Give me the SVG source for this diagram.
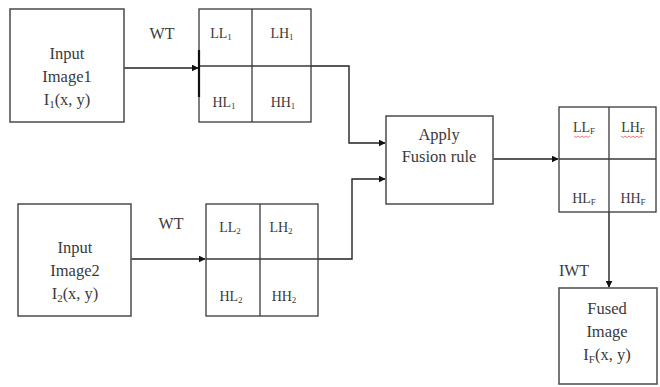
<svg xmlns="http://www.w3.org/2000/svg" width="660" height="387" viewBox="0 0 660 387">
  <style>
    .box { fill: #ffffff; stroke: #555555; stroke-width: 1.6; }
    .grid { fill: none; stroke: #3a3a3a; stroke-width: 1.3; }
    .conn { fill: none; stroke: #222222; stroke-width: 1.4; }
    .lbl { font-family: "Liberation Serif", "Times New Roman", serif; fill: #3a3a3a; text-anchor: middle; }
    .big { font-size: 16.5px; }
    .sub { font-size: 14px; }
    .tag { font-size: 16px; }
    .spell { fill: none; stroke: #e05a5a; stroke-width: 0.8; }
  </style>
  <defs>
    <marker id="arrow" viewBox="0 0 10 10" refX="9" refY="5" markerWidth="7" markerHeight="7" orient="auto" markerUnits="userSpaceOnUse">
      <path d="M0,0 L10,5 L0,10 z" fill="#111111"/>
    </marker>
  </defs>

  <rect width="660" height="387" fill="#ffffff"/>

  <!-- connectors -->
  <g id="connectors">
    <path class="conn" d="M124,68 H198" marker-end="url(#arrow)"/>
    <path class="conn" d="M131,259 H205" marker-end="url(#arrow)"/>
    <path class="conn" d="M311,66 H349 V143 H385" marker-end="url(#arrow)"/>
    <path class="conn" d="M318,259 H352 V179 H385" marker-end="url(#arrow)"/>
    <path class="conn" d="M493,159 H558" marker-end="url(#arrow)"/>
    <path class="conn" d="M609,212 V287" marker-end="url(#arrow)"/>
    <text class="lbl tag" x="162" y="39">WT</text>
    <text class="lbl tag" x="171" y="229">WT</text>
    <text class="lbl tag" x="574" y="276">IWT</text>
  </g>

  <!-- first source image -->
  <g id="input1">
    <rect class="box" x="10" y="9" width="114" height="113"/>
    <text class="lbl big" x="67" y="59">Input</text>
    <text class="lbl big" x="67" y="82">Image1</text>
    <text class="lbl big" x="67" y="105">I<tspan font-size="11" dy="3">1</tspan><tspan dy="-3">(x, y)</tspan></text>
  </g>

  <!-- second source image -->
  <g id="input2">
    <rect class="box" x="18" y="204" width="113" height="112"/>
    <text class="lbl big" x="75" y="253">Input</text>
    <text class="lbl big" x="75" y="276">Image2</text>
    <text class="lbl big" x="75" y="299">I<tspan font-size="11" dy="3">2</tspan><tspan dy="-3">(x, y)</tspan></text>
  </g>

  <!-- wavelet sub-bands of image 1 -->
  <g id="bands1">
    <rect class="grid" x="199" y="9" width="112" height="113"/>
    <path class="grid" d="M252,9 V122 M199,66 H311"/>
    <path d="M199,50 V97" stroke="#111111" stroke-width="2.2"/>
    <text class="lbl sub" x="221" y="38">LL<tspan font-size="9" dy="2">1</tspan></text>
    <text class="lbl sub" x="282" y="38">LH<tspan font-size="9" dy="2">1</tspan></text>
    <text class="lbl sub" x="224" y="107">HL<tspan font-size="9" dy="2">1</tspan></text>
    <text class="lbl sub" x="283" y="107">HH<tspan font-size="9" dy="2">1</tspan></text>
  </g>

  <!-- wavelet sub-bands of image 2 -->
  <g id="bands2">
    <rect class="grid" x="206" y="204" width="112" height="112"/>
    <path class="grid" d="M260,204 V316 M206,259 H318"/>
    <text class="lbl sub" x="230" y="232">LL<tspan font-size="9" dy="2">2</tspan></text>
    <text class="lbl sub" x="281" y="232">LH<tspan font-size="9" dy="2">2</tspan></text>
    <text class="lbl sub" x="231" y="301">HL<tspan font-size="9" dy="2">2</tspan></text>
    <text class="lbl sub" x="284" y="301">HH<tspan font-size="9" dy="2">2</tspan></text>
  </g>

  <!-- fusion step -->
  <g id="fusion">
    <rect class="box" x="386" y="116" width="107" height="88"/>
    <text class="lbl big" x="439" y="140">Apply</text>
    <text class="lbl big" x="439" y="162">Fusion rule</text>
  </g>

  <!-- fused sub-bands -->
  <g id="bandsF">
    <rect class="grid" x="559" y="107" width="97" height="105"/>
    <path class="grid" d="M609,107 V212 M559,159 H656"/>
    <text class="lbl sub" x="584" y="132">LL<tspan font-size="9" dy="2">F</tspan></text>
    <path class="spell" d="M574,136 l2,1.5 l2,-1.5 l2,1.5 l2,-1.5 l2,1.5 l2,-1.5 l2,1.5 l2,-1.5"/>
    <text class="lbl sub" x="633" y="132">LH<tspan font-size="9" dy="2">F</tspan></text>
    <path class="spell" d="M621,136 l2,1.5 l2,-1.5 l2,1.5 l2,-1.5 l2,1.5 l2,-1.5 l2,1.5 l2,-1.5 l2,1.5 l2,-1.5 l2,1.5"/>
    <text class="lbl sub" x="584" y="203">HL<tspan font-size="9" dy="2">F</tspan></text>
    <text class="lbl sub" x="633" y="203">HH<tspan font-size="9" dy="2">F</tspan></text>
  </g>

  <!-- reconstructed output -->
  <g id="fused">
    <rect class="box" x="559" y="288" width="98" height="96"/>
    <text class="lbl big" x="607" y="314">Fused</text>
    <text class="lbl big" x="607" y="337">Image</text>
    <text class="lbl big" x="607" y="360">I<tspan font-size="11" dy="3">F</tspan><tspan dy="-3">(x, y)</tspan></text>
  </g>
</svg>
